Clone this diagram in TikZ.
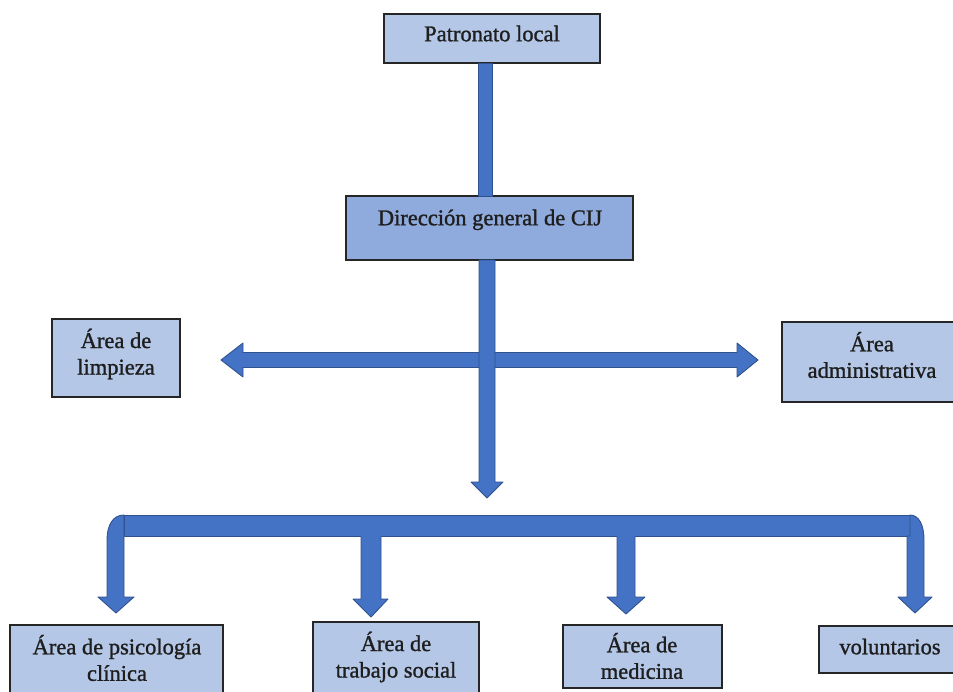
\documentclass[tikz,border=0pt]{standalone}
\usepackage{fontspec}
\setmainfont{Liberation Serif}
\newfontfamily\heavyserif[FakeBold=1.2]{Liberation Serif}
\definecolor{lightbox}{HTML}{B4C7E7}
\definecolor{midbox}{HTML}{8FAADC}
\definecolor{arrowfill}{HTML}{4472C4}
\definecolor{arrowline}{HTML}{2F528F}
\definecolor{boxline}{HTML}{262626}
\definecolor{txtcol}{HTML}{1E1E1E}
\tikzset{
  boxnode/.style={draw=boxline, line width=1.3pt, fill=lightbox, inner sep=0pt, outer sep=0pt},
  txtnode/.style={text=txtcol, font=\heavyserif\fontsize{22.5}{26.5}\selectfont, align=center, inner sep=0pt},
  blockfill/.style={fill=arrowfill},
  blockline/.style={draw=arrowline, line width=0.9pt, line join=round},
}
\begin{document}
\begin{tikzpicture}[x=1pt,y=-1pt]
\useasboundingbox (0,0) rectangle (953,692);
% ---- boxes ----
\node[boxnode, minimum width=216, minimum height=49] (pat) at (492,38.5) {};
\node[boxnode, fill=midbox, minimum width=287, minimum height=64] (dir) at (489.5,228) {};
\node[boxnode, minimum width=128, minimum height=78] (limp) at (116,358) {};
\node[boxnode, minimum width=180, minimum height=80] (adm) at (872,362) {};
\node[boxnode, minimum width=213, minimum height=90] (psi) at (116.5,670) {};
\node[boxnode, minimum width=166, minimum height=90] (tra) at (396,667) {};
\node[boxnode, minimum width=159, minimum height=63] (med) at (642.5,656.5) {};
\node[boxnode, minimum width=142, minimum height=47] (vol) at (890,649.5) {};
% ---- texts ----
\node[txtnode, text height=0.7em, text depth=0.25em] (tpat) at (492,39) {Patronato local};
\node[txtnode, text height=0.7em, text depth=0.25em] (tdir) at (490,223) {Dirección general de CIJ};
\node[txtnode] (tlimp) at (116,354) {Área de\\limpieza};
\node[txtnode] (tadm) at (872,355) {Área\\administrativa};
\node[txtnode] (tpsi) at (117,658) {Área de psicología\\clínica};
\node[txtnode] (ttra) at (396,657) {Área de\\trabajo social};
\node[txtnode] (tmed) at (642,656) {Área de\\medicina};
\node[txtnode, text height=0.7em, text depth=0.25em] (tvol) at (890,652) {voluntarios};
% ---- shaft Patronato -> Dirección ----
\path[blockfill, blockline] (478,63) rectangle (492,196);
% ---- horizontal double arrow ----
\path[blockfill, blockline] (221,360) -- (243,343) -- (243,352.5) -- (737,352.5) -- (737,343) -- (758,360)
  -- (737,377) -- (737,367.5) -- (243,367.5) -- (243,377) -- cycle;
% ---- vertical arrow from Dirección ----
\path[blockfill, blockline] (479,260) -- (479,482) -- (471,482) -- (487,498) -- (503,482) -- (495,482) -- (495,260) -- cycle;
% ---- bottom bracket bar ----
\path[blockfill, blockline] (124,515) rectangle (910,536);
% left bent arrow
\path[blockfill, blockline] (124,515) .. controls (113,515) and (107,525) .. (107,540) -- (107,597) -- (98,597)
  -- (116,613) -- (134,597) -- (124,597) -- (124,536) -- cycle;
% right bent arrow
\path[blockfill, blockline] (910,515) .. controls (919,515) and (924,525) .. (924,540) -- (924,597) -- (932,597)
  -- (915,613) -- (898,597) -- (907,597) -- (907,536) -- (910,536) -- cycle;
% middle arrows
\fill[blockfill] (361,535) -- (361,599) -- (353,599) -- (371,617) -- (388,599) -- (381,599) -- (381,535) -- cycle;
\draw[blockline] (361,536.5) -- (361,599) -- (353,599) -- (371,617) -- (388,599) -- (381,599) -- (381,536.5);
\fill[blockfill] (617,535) -- (617,597) -- (607,597) -- (626,614) -- (645,597) -- (635,597) -- (635,535) -- cycle;
\draw[blockline] (617,536.5) -- (617,597) -- (607,597) -- (626,614) -- (645,597) -- (635,597) -- (635,536.5);
\end{tikzpicture}
\end{document}
